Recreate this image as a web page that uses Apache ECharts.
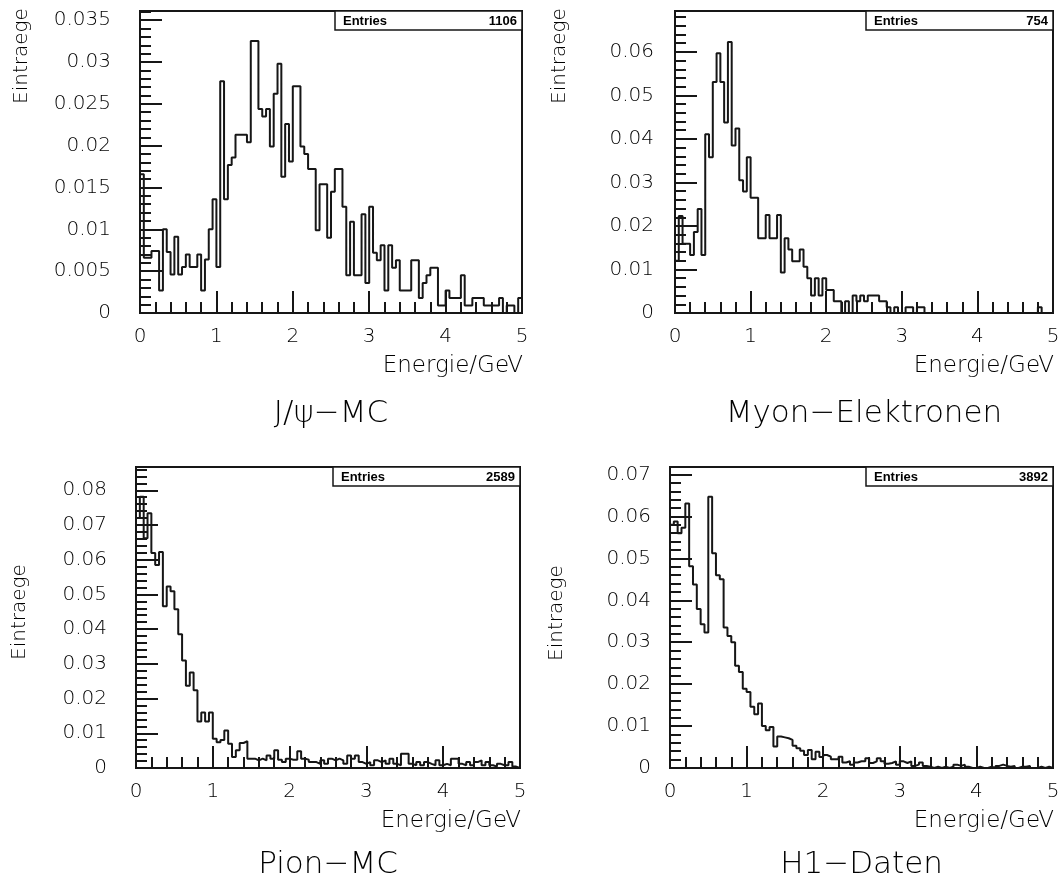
<!DOCTYPE html>
<html>
<head>
<meta charset="utf-8">
<script src="https://cdn.jsdelivr.net/npm/echarts@6/dist/echarts.min.js"></script>
<style>
  html, body { margin: 0; padding: 0; background: #fff; }
  #chart { width: 1062px; height: 887px; }
</style>
</head>
<body>
<div id="chart"></div>
<script>
// histogram data, 100 bins of 0.05 GeV from 0 to 5, normalised to entries
const binWidth = 0.05;
const energyTicks = [0, 1, 2, 3, 4, 5];

const jpsiMC = [
  0.0166, 0.0066, 0.0066, 0.0074, 0.0074, 0.0027, 0.0100, 0.0073, 0.0046, 0.0091,
  0.0046, 0.0055, 0.0070, 0.0055, 0.0055, 0.0070, 0.0027, 0.0064, 0.0100, 0.0136,
  0.0055, 0.0277, 0.0136, 0.0177, 0.0186, 0.0213, 0.0213, 0.0213, 0.0204, 0.0325,
  0.0325, 0.0244, 0.0235, 0.0244, 0.0199, 0.0262, 0.0298, 0.0163, 0.0226, 0.0181,
  0.0271, 0.0271, 0.0199, 0.0190, 0.0172, 0.0172, 0.0099, 0.0154, 0.0154, 0.0090,
  0.0145, 0.0172, 0.0172, 0.0127, 0.0045, 0.0109, 0.0045, 0.0045, 0.0118, 0.0036,
  0.0127, 0.0072, 0.0063, 0.0081, 0.0027, 0.0081, 0.0054, 0.0063, 0.0027, 0.0027,
  0.0027, 0.0063, 0.0063, 0.0018, 0.0036, 0.0045, 0.0054, 0.0054, 0.0009, 0.0009,
  0.0027, 0.0018, 0.0018, 0.0018, 0.0045, 0.0009, 0.0009, 0.0018, 0.0018, 0.0018,
  0.0009, 0.0009, 0.0009, 0.0009, 0.0018, 0.0000, 0.0009, 0.0009, 0.0000, 0.0018
];

const myonElektronen = [
  0.0120, 0.0223, 0.0159, 0.0159, 0.0133, 0.0186, 0.0239, 0.0133, 0.0411, 0.0358,
  0.0531, 0.0597, 0.0531, 0.0438, 0.0623, 0.0385, 0.0424, 0.0305, 0.0279, 0.0358,
  0.0265, 0.0265, 0.0172, 0.0172, 0.0225, 0.0172, 0.0172, 0.0225, 0.0093, 0.0172,
  0.0146, 0.0119, 0.0119, 0.0146, 0.0106, 0.0080, 0.0040, 0.0080, 0.0040, 0.0080,
  0.0053, 0.0053, 0.0027, 0.0027, 0.0000, 0.0027, 0.0000, 0.0040, 0.0027, 0.0040,
  0.0027, 0.0040, 0.0040, 0.0040, 0.0027, 0.0027, 0.0013, 0.0000, 0.0013, 0.0000,
  0.0000, 0.0013, 0.0013, 0.0000, 0.0013, 0.0013, 0.0000, 0.0000, 0.0000, 0.0000,
  0.0000, 0.0000, 0.0000, 0.0000, 0.0000, 0.0000, 0.0000, 0.0000, 0.0000, 0.0000,
  0.0000, 0.0000, 0.0000, 0.0000, 0.0000, 0.0000, 0.0000, 0.0000, 0.0000, 0.0000,
  0.0000, 0.0000, 0.0000, 0.0000, 0.0000, 0.0000, 0.0013, 0.0000, 0.0000, 0.0000
];

const pionMC = [
  0.0720, 0.0781, 0.0662, 0.0734, 0.0619, 0.0585, 0.0622, 0.0466, 0.0523, 0.0509,
  0.0457, 0.0385, 0.0310, 0.0237, 0.0275, 0.0224, 0.0134, 0.0160, 0.0134, 0.0160,
  0.0084, 0.0074, 0.0081, 0.0108, 0.0070, 0.0032, 0.0051, 0.0072, 0.0077, 0.0027,
  0.0027, 0.0022, 0.0027, 0.0022, 0.0036, 0.0027, 0.0051, 0.0024, 0.0017, 0.0027,
  0.0024, 0.0024, 0.0048, 0.0027, 0.0024, 0.0017, 0.0017, 0.0012, 0.0022, 0.0012,
  0.0027, 0.0022, 0.0027, 0.0022, 0.0012, 0.0036, 0.0027, 0.0036, 0.0017, 0.0012,
  0.0017, 0.0008, 0.0022, 0.0017, 0.0022, 0.0012, 0.0027, 0.0012, 0.0008, 0.0041,
  0.0041, 0.0012, 0.0008, 0.0017, 0.0008, 0.0017, 0.0012, 0.0008, 0.0022, 0.0008,
  0.0012, 0.0008, 0.0027, 0.0027, 0.0012, 0.0008, 0.0017, 0.0008, 0.0017, 0.0022,
  0.0008, 0.0017, 0.0008, 0.0004, 0.0012, 0.0008, 0.0008, 0.0017, 0.0004, 0.0000
];

const h1Daten = [
  0.0580, 0.0588, 0.0560, 0.0573, 0.0631, 0.0481, 0.0438, 0.0379, 0.0343, 0.0323,
  0.0647, 0.0512, 0.0460, 0.0450, 0.0335, 0.0315, 0.0300, 0.0244, 0.0229, 0.0189,
  0.0181, 0.0146, 0.0128, 0.0154, 0.0100, 0.0090, 0.0098, 0.0051, 0.0075, 0.0073,
  0.0071, 0.0067, 0.0053, 0.0047, 0.0041, 0.0031, 0.0043, 0.0021, 0.0039, 0.0026,
  0.0031, 0.0027, 0.0021, 0.0021, 0.0027, 0.0013, 0.0016, 0.0008, 0.0013, 0.0016,
  0.0016, 0.0023, 0.0012, 0.0016, 0.0023, 0.0016, 0.0010, 0.0012, 0.0016, 0.0008,
  0.0016, 0.0012, 0.0016, 0.0005, 0.0008, 0.0013, 0.0005, 0.0003, 0.0000, 0.0003,
  0.0000, 0.0003, 0.0000, 0.0003, 0.0008, 0.0005, 0.0008, 0.0003, 0.0000, 0.0000,
  0.0003, 0.0000, 0.0000, 0.0003, 0.0000, 0.0005, 0.0008, 0.0005, 0.0003, 0.0005,
  0.0000, 0.0003, 0.0003, 0.0005, 0.0000, 0.0000, 0.0003, 0.0000, 0.0003, 0.0000
];

const panelTitles = ['J/\u03c8\u2212MC', 'Myon\u2212Elektronen', 'Pion\u2212MC', 'H1\u2212Daten'];
const panelEntries = [1106, 754, 2589, 3892];
const panelValues = [jpsiMC, myonElektronen, pionMC, h1Daten];
const yMaxes = [0.0361, 0.0694, 0.0867, 0.0718];
const yIntervals = [0.005, 0.01, 0.01, 0.01];

// layout (pixels)
const ink = '#161616';
const textInk = '#000';
const font = 'DejaVu Sans';
const layout = [
  { grid: { left: 140, top: 11, width: 382, height: 302 }, yMargin: 29, eintX: 22, eintY: 56, capY: 366, titleY: 414 },
  { grid: { left: 675, top: 11, width: 378, height: 302 }, yMargin: 21, eintX: 560, eintY: 56, capY: 366, titleY: 414 },
  { grid: { left: 136, top: 467, width: 384, height: 301 }, yMargin: 29, eintX: 20, eintY: 612, capY: 821, titleY: 865 },
  { grid: { left: 670, top: 467, width: 383, height: 301 }, yMargin: 19, eintX: 557, eintY: 613, capY: 821, titleY: 865 }
];

function stepData(values) {
  const pts = [[0, 0]];
  values.forEach((v, i) => pts.push([+(i * binWidth).toFixed(2), v]));
  pts.push([+(values.length * binWidth).toFixed(2), values[values.length - 1]]);
  return pts;
}

const grids = [], xAxes = [], yAxes = [], series = [], graphics = [];

layout.forEach((L, i) => {
  grids.push(Object.assign({
    show: true, borderColor: ink, borderWidth: 2, backgroundColor: '#fff',
    containLabel: false, outerBoundsMode: 'none'
  }, L.grid));

  xAxes.push({
    type: 'value', gridIndex: i, min: energyTicks[0], max: energyTicks[energyTicks.length - 1], interval: 1,
    axisLine: { show: true, lineStyle: { color: ink, width: 2 } },
    axisTick: { show: true, inside: true, length: 22, lineStyle: { color: ink, width: 2 } },
    minorTick: { show: true, splitNumber: 5, length: 11, lineStyle: { color: ink, width: 2 } },
    splitLine: { show: false },
    axisLabel: { color: textInk, fontFamily: font, fontWeight: 200, fontSize: 20, margin: 14, showMinLabel: true, showMaxLabel: true }
  });

  const iv = yIntervals[i];
  yAxes.push({
    type: 'value', gridIndex: i, min: 0, max: yMaxes[i], interval: iv,
    axisLine: { show: true, lineStyle: { color: ink, width: 2 } },
    axisTick: { show: true, inside: true, length: 22, lineStyle: { color: ink, width: 2 } },
    minorTick: { show: true, splitNumber: 5, length: 11, lineStyle: { color: ink, width: 2 } },
    splitLine: { show: false },
    axisLabel: {
      color: textInk, fontFamily: font, fontWeight: 200, fontSize: 20, margin: L.yMargin,
      formatter: v => {
        const r = Math.round(v / iv);
        if (Math.abs(v - r * iv) > 1e-9) return '';
        return String(parseFloat(v.toFixed(4)));
      }
    }
  });

  series.push({
    type: 'line', xAxisIndex: i, yAxisIndex: i, step: 'end',
    data: stepData(panelValues[i]),
    showSymbol: false, silent: true, animation: false,
    lineStyle: { color: ink, width: 2 }
  });

  const g = L.grid;
  const right = g.left + g.width;
  // Entries box
  graphics.push({
    type: 'rect', shape: { x: right - 187, y: g.top, width: 187, height: 19 },
    style: { fill: '#fff', stroke: ink, lineWidth: 1.5 }, z: 10
  });
  graphics.push({
    type: 'text', x: right - 179, y: g.top + 10, z: 11,
    style: { text: 'Entries', font: 'bold 13px "Liberation Sans"', fill: textInk, verticalAlign: 'middle' }
  });
  graphics.push({
    type: 'text', x: right - 5, y: g.top + 10, z: 11,
    style: { text: String(panelEntries[i]), font: 'bold 13px "Liberation Sans"', fill: textInk, align: 'right', verticalAlign: 'middle' }
  });
  // y axis name
  graphics.push({
    type: 'text', x: L.eintX, y: L.eintY, rotation: Math.PI / 2,
    style: { text: 'Eintraege', font: '200 20px "DejaVu Sans"', fill: textInk, align: 'center', verticalAlign: 'middle' }
  });
  // x axis name
  graphics.push({
    type: 'text', x: right + 1, y: L.capY,
    style: { text: 'Energie/GeV', font: '200 23px "DejaVu Sans"', fill: textInk, align: 'right', verticalAlign: 'middle' }
  });
  // panel title
  graphics.push({
    type: 'text', x: g.left + g.width / 2, y: L.titleY,
    style: { text: panelTitles[i], font: '200 31px "DejaVu Sans"', fill: textInk, align: 'center', verticalAlign: 'middle' }
  });
});

const chart = echarts.init(document.getElementById('chart'), null, { renderer: 'canvas' });
chart.setOption({
  backgroundColor: '#fff',
  animation: false,
  grid: grids,
  xAxis: xAxes,
  yAxis: yAxes,
  series: series,
  graphic: graphics
});
</script>
</body>
</html>
